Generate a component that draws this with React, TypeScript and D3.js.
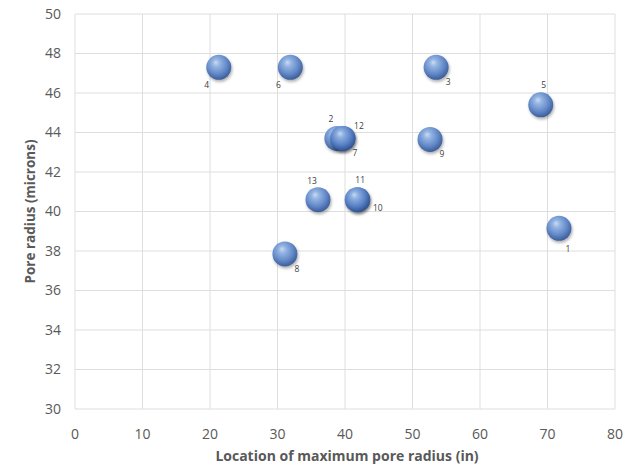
import React from "react";
import * as d3 from "d3";

const ids = ["1", "2", "3", "4", "5", "6", "7", "8", "9", "10", "11", "12", "13"];
const locations = [71.7, 38.8, 53.5, 21.3, 69.0, 31.9, 39.7, 31.1, 52.6, 41.9, 41.8, 39.7, 36.0];
const poreRadius = [39.15, 43.7, 47.3, 47.3, 45.4, 47.3, 43.7, 37.85, 43.65, 40.6, 40.6, 43.7, 40.6];
const labelPlacement = ["below", "tl", "br", "bl", "t", "bl", "br", "br", "br", "r", "t", "tr", "tl"];
const xTicks = [0, 10, 20, 30, 40, 50, 60, 70, 80];
const yTicks = [30, 32, 34, 36, 38, 40, 42, 44, 46, 48, 50];

const W = 638;
const H = 467;
const margin = { left: 75, right: 23, top: 14, bottom: 58 };

const placementOffsets: Record<string, [number, number]> = {
  below: [9, 24],
  br: [12, 18],
  r: [20, 11],
  bl: [-12, 21],
  t: [3, -17],
  tl: [-6, -16],
  tr: [16, -9],
};

export default function App() {
  const x = d3.scaleLinear().domain([0, 80]).range([margin.left, W - margin.right]);
  const y = d3.scaleLinear().domain([30, 50]).range([H - margin.bottom, margin.top]);
  const r = 12.5;
  const font = "'Open Sans', 'Noto Sans', sans-serif";
  const order = d3.range(ids.length);
  return (
    <svg
      width={W}
      height={H}
      style={{ position: "absolute", left: 0, top: 0, background: "#fff" }}
    >
      <defs>
        <radialGradient id="sphere" cx="45%" cy="40%" r="60%" fx="38%" fy="30%">
          <stop offset="0%" stopColor="#c9dcf5" />
          <stop offset="25%" stopColor="#8fb1e3" />
          <stop offset="65%" stopColor="#5b85c9" />
          <stop offset="100%" stopColor="#2f5394" />
        </radialGradient>
        <filter id="shadow" x="-50%" y="-50%" width="200%" height="200%">
          <feGaussianBlur in="SourceAlpha" stdDeviation="1.5" />
          <feOffset dx="1" dy="1.5" result="b" />
          <feComponentTransfer>
            <feFuncA type="linear" slope="0.35" />
          </feComponentTransfer>
          <feMerge>
            <feMergeNode />
            <feMergeNode in="SourceGraphic" />
          </feMerge>
        </filter>
      </defs>
      {yTicks.map((t) => (
        <line key={"gy" + t} x1={x(0)} x2={x(80)} y1={y(t)} y2={y(t)} stroke="#dedede" strokeWidth={1} />
      ))}
      {xTicks.map((t) => (
        <line key={"gx" + t} x1={x(t)} x2={x(t)} y1={y(30)} y2={y(50)} stroke="#dedede" strokeWidth={1} />
      ))}
      {yTicks.map((t) => (
        <text key={"ty" + t} x={x(0) - 14} y={y(t)} dy="0.35em" textAnchor="end" fontSize={14} fill="#595959" fontFamily={font}>
          {t}
        </text>
      ))}
      {xTicks.map((t) => (
        <text key={"tx" + t} x={x(t)} y={y(30) + 25} dy="0.35em" textAnchor="middle" fontSize={14} fill="#595959" fontFamily={font}>
          {t}
        </text>
      ))}
      <text
        x={(x(0) + x(80)) / 2 + 2}
        y={H - 6}
        textAnchor="middle"
        fontSize={14}
        fontWeight="bold"
        fill="#595959"
        fontFamily={font}
      >
        Location of maximum pore radius (in)
      </text>
      <text
        transform={`translate(${35},${(y(30) + y(50)) / 2}) rotate(-90)`}
        textAnchor="middle"
        fontSize={13.5}
        fontWeight="bold"
        fill="#595959"
        fontFamily={font}
      >
        Pore radius (microns)
      </text>
      {order.map((i) => (
        <circle
          key={"c" + i}
          cx={x(locations[i])}
          cy={y(poreRadius[i])}
          r={r}
          fill="url(#sphere)"
          fillOpacity={0.9}
          filter="url(#shadow)"
        />
      ))}
      {order.map((i) => {
        const [dx, dy] = placementOffsets[labelPlacement[i]];
        return (
          <text
            key={"l" + i}
            x={x(locations[i]) + dx}
            y={y(poreRadius[i]) + dy}
            textAnchor="middle"
            fontSize={8.5}
            fill="#404040"
            fontFamily={font}
          >
            {ids[i]}
          </text>
        );
      })}
    </svg>
  );
}
